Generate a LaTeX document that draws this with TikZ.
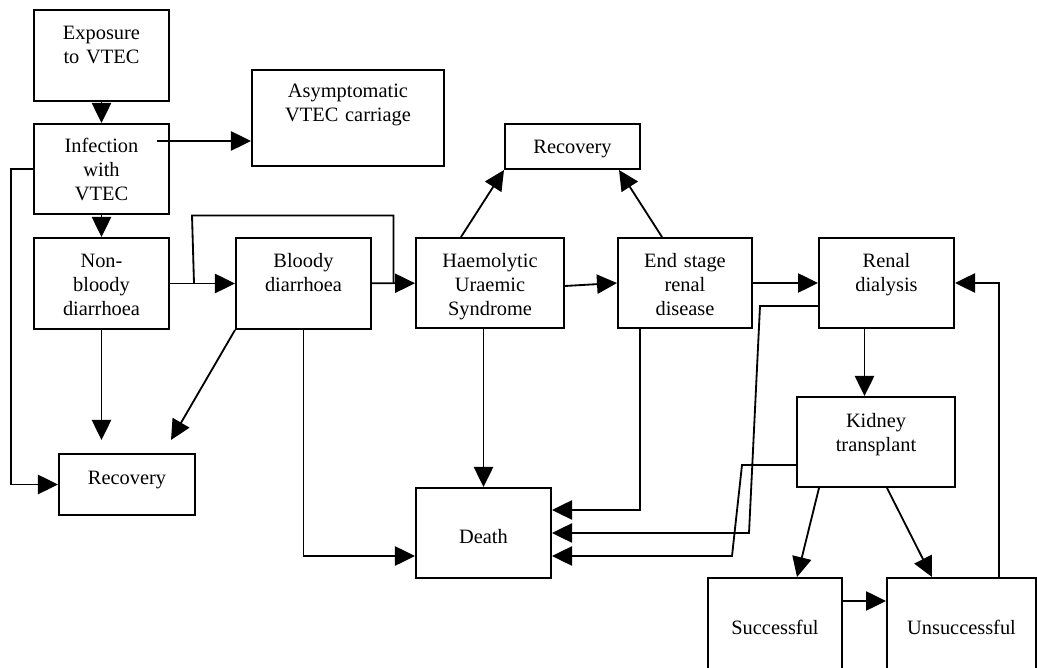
\documentclass[tikz,border=0pt]{standalone}
\usepackage{fontspec}
\setmainfont{Liberation Serif}
\usetikzlibrary{arrows.meta,calc}

\begin{document}
\begin{tikzpicture}[x=0.025cm,y=-0.025cm,
	box/.style={draw,line width=1.4pt,anchor=north,inner sep=0pt,align=center,font=\fontsize{14.5pt}{17pt}\selectfont},
	arr/.style={line width=1.3pt,-{Triangle[length=0.5cm,width=0.48cm]}}]
	\useasboundingbox (0,0) rectangle (1037,668);

	\node[box,text width=3.375cm,text height=0.75cm,text depth=1.525cm] (expo) at (101.5,9) {Exposure\\to VTEC};
	\node[box,text width=3.375cm,text height=0.725cm,text depth=1.525cm] (infect) at (101.5,123) {Infection\\with\\VTEC};
	\node[box,text width=4.8cm,text height=0.7cm,text depth=1.7cm] (asym) at (348,69) {Asymptomatic\\VTEC carriage};
	\node[box,text width=3.375cm,text height=0.75cm,text depth=1.525cm] (nonbloody) at (101.5,237) {Non-\\bloody\\diarrhoea};
	\node[box,text width=3.375cm,text height=0.75cm,text depth=1.525cm] (bloody) at (303.5,237) {Bloody\\diarrhoea};
	\node[box,text width=3.7cm,text height=0.75cm,text depth=1.5cm] (hus) at (490,237) {Haemolytic\\Uraemic\\Syndrome};
	\node[box,text width=3.35cm,text height=0.75cm,text depth=1.5cm] (esrd) at (685,237) {End stage\\renal\\disease};
	\node[box,text width=3.375cm,text height=0.75cm,text depth=1.5cm] (dialysis) at (886.5,237) {Renal\\dialysis};
	\node[box,text width=3.375cm,text height=0.75cm,text depth=0.375cm] (rectop) at (572.5,123) {Recovery};
	\node[box,text width=3.4cm,text height=0.775cm,text depth=0.75cm] (recleft) at (127,453) {Recovery};
	\node[box,text width=3.95cm,text height=0.775cm,text depth=1.475cm] (kidney) at (876,396) {Kidney\\transplant};
	\node[box,text width=3.375cm,text height=1.375cm,text depth=0.875cm] (death) at (483.5,487) {Death};
	\node[box,text width=3.35cm,text height=1.4cm,text depth=0.875cm] (success) at (775,577) {Successful};
	\node[box,text width=3.725cm,text height=1.4cm,text depth=0.875cm] (unsucc) at (961.5,577) {Unsuccessful};

	% left column
	\draw[arr] (expo) -- (infect);
	\draw[arr] (infect) -- (nonbloody);
	\coordinate (ia) at ($(infect.north east)+(-13,18)$);
	\draw[arr] (ia) -- (ia -| asym.west);
	\draw[arr] (infect.west) -- ++(-22,0) |- (recleft.west);
	\draw[arr] (nonbloody) -- (bloody);
	\draw[arr,shorten >=0.325cm] (nonbloody.south) -- (nonbloody.south |- recleft.north);
	\draw[arr] (bloody.south west) -- ($(recleft.north east)+(-25,-13)$);
	\draw[arr] (bloody.south) |- ([yshift=-0.575cm]death.west);

	% loop over bloody diarrhoea
	\coordinate (lp) at ($(nonbloody.east)+(24,0)$);
	\draw[line width=1.3pt] (lp) -- ++(-2,-68) -| ($(bloody.east)!0.5!(hus.west)$);

	% middle row
	\draw[arr] (bloody) -- (hus);
	\draw[arr] ([yshift=-0.075cm]hus.east) -- (esrd.west);
	\draw[arr] (esrd) -- (dialysis);
	\draw[arr] ([xshift=-0.725cm]hus.north) -- (rectop.south west);
	\draw[arr] ([xshift=-0.575cm]esrd.north) -- ([xshift=-0.55cm]rectop.south east);

	% into death
	\draw[arr] (hus.south -| death.north) -- (death.north);
	\draw[arr] ([xshift=-1.125cm]esrd.south) |- ([yshift=0.575cm]death.east);
	\draw[arr] ([yshift=-0.575cm]dialysis.west) -- ++(-58,0) -- ++(-11,227) -- (death.east);
	\draw[arr] ([yshift=-0.575cm]kidney.west) -- ++(-54,0) -- ++(-10,91) -- ([yshift=-0.575cm]death.east);

	% transplant
	\coordinate (dk) at ([xshift=-0.55cm]dialysis.south);
	\draw[arr] (dk) -- (dk |- kidney.north);
	\draw[arr] ([xshift=-1.425cm]kidney.south) -- ([xshift=0.55cm]success.north);
	\draw[arr] ([xshift=0.275cm]kidney.south) -- ([xshift=-0.7375cm]unsucc.north);
	\draw[arr] ([yshift=0.5625cm]success.east) -- ([yshift=0.5625cm]unsucc.west);
	\draw[arr] ([xshift=0.9375cm]unsucc.north) |- (dialysis.east);
\end{tikzpicture}
\end{document}
